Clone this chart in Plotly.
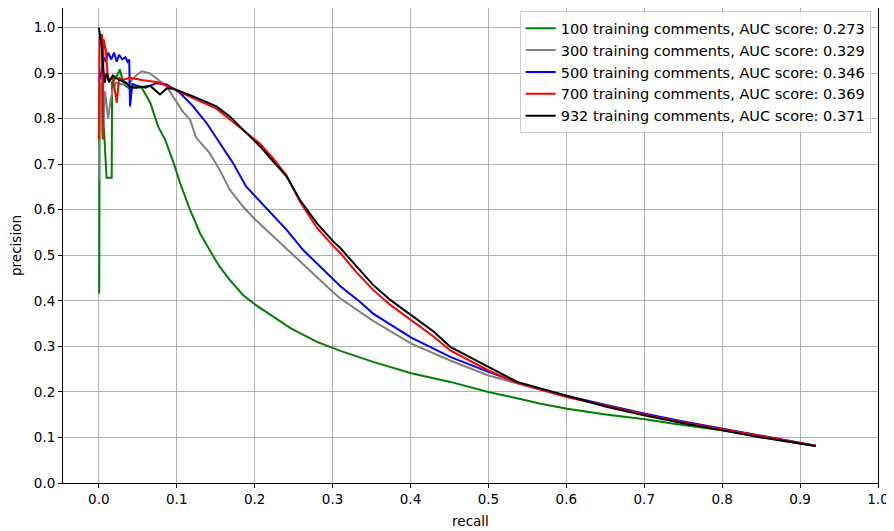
import plotly.graph_objects as go

labels = [
    "100 training comments, AUC score: 0.273",
    "300 training comments, AUC score: 0.329",
    "500 training comments, AUC score: 0.346",
    "700 training comments, AUC score: 0.369",
    "932 training comments, AUC score: 0.371",
]
colors = ["#008000", "#808080", "#0000ff", "#ff0000", "#000000"]

recall_100 = [0.0, 0.0005, 0.001, 0.004, 0.0099, 0.0165, 0.017, 0.022, 0.027, 0.032, 0.04, 0.048, 0.055,
              0.066, 0.076, 0.085, 0.096, 0.105, 0.117, 0.130, 0.142, 0.155, 0.168, 0.185, 0.202, 0.224,
              0.247, 0.28, 0.310, 0.352, 0.401, 0.451, 0.500, 0.545, 0.567, 0.601, 0.653, 0.701, 0.738,
              0.802, 0.85, 0.901, 0.92]
precision_100 = [0.416, 0.42, 0.87, 0.86, 0.67, 0.67, 0.88, 0.89, 0.908, 0.875, 0.865, 0.87, 0.868,
                 0.835, 0.783, 0.754, 0.703, 0.655, 0.600, 0.548, 0.512, 0.475, 0.446, 0.413, 0.390, 0.365,
                 0.339, 0.31, 0.290, 0.266, 0.241, 0.222, 0.200, 0.183, 0.174, 0.163, 0.150, 0.140, 0.130,
                 0.115, 0.101, 0.086, 0.081]

recall_300 = [0.0, 0.001, 0.003, 0.005, 0.008, 0.012, 0.015, 0.018, 0.022, 0.03, 0.04, 0.048, 0.055,
              0.065, 0.076, 0.087, 0.095, 0.1, 0.108, 0.117, 0.125, 0.142, 0.155, 0.168, 0.185, 0.201,
              0.224, 0.250, 0.275, 0.300, 0.310, 0.335, 0.352, 0.401, 0.451, 0.500, 0.537, 0.567, 0.601,
              0.65, 0.701, 0.75, 0.802, 0.85, 0.901, 0.92]
precision_300 = [0.666, 0.85, 0.88, 0.758, 0.86, 0.80, 0.84, 0.865, 0.879, 0.875, 0.88, 0.895, 0.904,
                 0.90, 0.886, 0.871, 0.849, 0.835, 0.815, 0.798, 0.758, 0.725, 0.688, 0.644, 0.607, 0.578,
                 0.541, 0.500, 0.460, 0.420, 0.405, 0.375, 0.356, 0.306, 0.269, 0.236, 0.219, 0.204, 0.189,
                 0.170, 0.150, 0.133, 0.117, 0.102, 0.087, 0.082]

recall_500 = [0.0, 0.003, 0.006, 0.009, 0.012, 0.016, 0.0195, 0.023, 0.026, 0.03, 0.034, 0.037, 0.039,
              0.040, 0.043, 0.05, 0.06, 0.074, 0.087, 0.104, 0.121, 0.138, 0.155, 0.172, 0.189, 0.201,
              0.219, 0.241, 0.262, 0.300, 0.310, 0.335, 0.352, 0.401, 0.451, 0.500, 0.537, 0.567, 0.601,
              0.65, 0.701, 0.75, 0.802, 0.85, 0.901, 0.92]
precision_500 = [0.88, 0.90, 0.935, 0.925, 0.945, 0.93, 0.945, 0.925, 0.94, 0.93, 0.935, 0.925, 0.93,
                 0.827, 0.876, 0.872, 0.868, 0.878, 0.875, 0.857, 0.827, 0.791, 0.747, 0.703, 0.651, 0.629,
                 0.596, 0.556, 0.512, 0.450, 0.432, 0.398, 0.372, 0.319, 0.277, 0.244, 0.221, 0.206, 0.191,
                 0.172, 0.152, 0.135, 0.119, 0.104, 0.088, 0.082]

recall_700 = [0.0, 0.001, 0.004, 0.005, 0.006, 0.009, 0.011, 0.013, 0.018, 0.023, 0.026, 0.03, 0.04,
              0.055, 0.076, 0.095, 0.121, 0.151, 0.185, 0.207, 0.224, 0.241, 0.258, 0.280, 0.301, 0.310,
              0.331, 0.352, 0.374, 0.401, 0.430, 0.451, 0.500, 0.537, 0.567, 0.601, 0.65, 0.701, 0.75,
              0.802, 0.85, 0.901, 0.92]
precision_700 = [0.754, 0.98, 0.985, 0.754, 0.975, 0.95, 0.90, 0.885, 0.89, 0.835, 0.89, 0.885, 0.89,
                 0.885, 0.88, 0.866, 0.845, 0.822, 0.775, 0.745, 0.712, 0.675, 0.618, 0.560, 0.520, 0.505,
                 0.462, 0.424, 0.391, 0.357, 0.321, 0.291, 0.247, 0.220, 0.205, 0.189, 0.170, 0.150, 0.133,
                 0.117, 0.102, 0.087, 0.082]

recall_932 = [0.0, 0.0035, 0.0057, 0.0075, 0.01, 0.013, 0.018, 0.026, 0.034, 0.04, 0.048, 0.055, 0.066,
              0.0785, 0.087, 0.095, 0.121, 0.151, 0.168, 0.185, 0.207, 0.224, 0.241, 0.258, 0.280, 0.301,
              0.310, 0.331, 0.352, 0.374, 0.401, 0.430, 0.451, 0.481, 0.500, 0.537, 0.588, 0.65, 0.701,
              0.75, 0.802, 0.85, 0.901, 0.92]
precision_932 = [1.0, 0.96, 0.908, 0.879, 0.90, 0.88, 0.895, 0.885, 0.88, 0.87, 0.868, 0.87, 0.872,
                 0.853, 0.866, 0.866, 0.849, 0.827, 0.805, 0.776, 0.739, 0.706, 0.673, 0.622, 0.570, 0.530,
                 0.516, 0.475, 0.435, 0.402, 0.368, 0.332, 0.299, 0.273, 0.255, 0.222, 0.197, 0.168, 0.148,
                 0.131, 0.115, 0.100, 0.086, 0.081]

recalls = [recall_100, recall_300, recall_500, recall_700, recall_932]
precisions = [precision_100, precision_300, precision_500, precision_700, precision_932]

x_ticks = [0.0, 0.1, 0.2, 0.3, 0.4, 0.5, 0.6, 0.7, 0.8, 0.9, 1.0]
y_ticks = [0.0, 0.1, 0.2, 0.3, 0.4, 0.5, 0.6, 0.7, 0.8, 0.9, 1.0]

FONT = "DejaVu Sans"

fig = go.Figure()
for lab, col, xs, ys in zip(labels, colors, recalls, precisions):
    fig.add_trace(go.Scatter(x=xs, y=ys, mode="lines", name=lab,
                             line=dict(color=col, width=2)))

axis_common = dict(
    showline=True, linecolor="black", linewidth=1, mirror=True,
    ticks="outside", ticklen=4, tickcolor="black", tickwidth=1,
    showgrid=True, gridcolor="#b0b0b0", gridwidth=1, zeroline=False,
    tickfont=dict(family=FONT, size=13.5, color="black"),
    tickformat=".1f", automargin=False,
)

# page body adds an 8px offset; figure size/margins compensate for it
fig.update_layout(
    width=886, height=523,
    margin=dict(l=55, r=16, t=0, b=48),
    paper_bgcolor="white", plot_bgcolor="white",
    font=dict(family=FONT, size=13.5, color="black"),
    xaxis=dict(range=[-0.046, 1.0], tickvals=x_ticks,
               title=dict(text="recall", font=dict(family=FONT, size=13.5), standoff=10),
               **axis_common),
    yaxis=dict(range=[0.0, 1.043], tickvals=y_ticks,
               title=dict(text="precision", font=dict(family=FONT, size=13.5), standoff=9),
               **axis_common),
    legend=dict(x=0.991, y=0.993, xanchor="right", yanchor="top",
                bgcolor="rgba(255,255,255,0.8)", bordercolor="#cccccc", borderwidth=1,
                font=dict(family=FONT, size=14.5, color="black"),
                tracegroupgap=0, itemwidth=30),
    showlegend=True,
)

fig.write_html("out.html")
